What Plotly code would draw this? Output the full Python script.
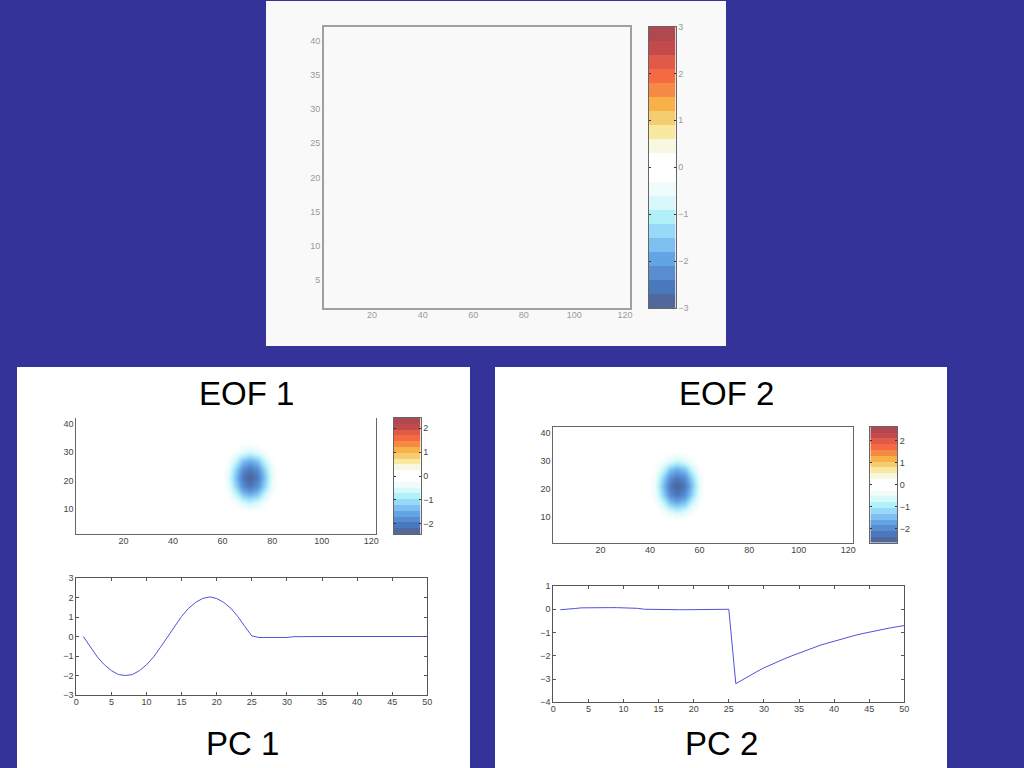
import plotly.graph_objects as go

W, H = 1024, 768

# colorbar bands, bottom to top
band_colors = ["#50689c", "#4a78bc", "#5a8cd0", "#62a4e4", "#7ebef0", "#98d8f8", "#b0f0f8",
               "#d8f8fc", "#f0fcfc", "#ffffff", "#ffffff", "#f8f8e0", "#f8e8a0", "#f5cc70",
               "#f8b048", "#f58a45", "#f56a40", "#e05a4a", "#c24a4c", "#b04850"]

# EOF patches, everything outside the grid is zero
eof1_x = [59, 62, 65, 68, 71, 74, 77, 80, 83]
eof1_y = [9, 12, 15, 18, 21, 24, 27, 30, 33]
eof1_z = [
    [0, 0, -0.03, -0.12, -0.15, -0.12, -0.03, 0, 0],
    [0, -0.04, -0.26, -0.5, -0.68, -0.5, -0.26, -0.04, 0],
    [-0.02, -0.18, -0.68, -1.25, -1.45, -1.25, -0.68, -0.18, -0.02],
    [-0.04, -0.34, -1.12, -1.78, -2.05, -1.78, -1.12, -0.34, -0.04],
    [-0.05, -0.42, -1.3, -2.0, -2.4, -2.0, -1.3, -0.42, -0.05],
    [-0.04, -0.34, -1.12, -1.78, -2.05, -1.78, -1.12, -0.34, -0.04],
    [-0.02, -0.18, -0.68, -1.25, -1.45, -1.25, -0.68, -0.18, -0.02],
    [0, -0.04, -0.26, -0.5, -0.68, -0.5, -0.26, -0.04, 0],
    [0, 0, -0.03, -0.12, -0.15, -0.12, -0.03, 0, 0],
]
eof2_x = [39, 42, 45, 48, 51, 54, 57, 60, 63]
eof2_y = [9, 12, 15, 18, 21, 24, 27, 30, 33]
eof2_z = [
    [0, 0, -0.03, -0.13, -0.16, -0.13, -0.03, 0, 0],
    [0, -0.04, -0.28, -0.55, -0.74, -0.55, -0.28, -0.04, 0],
    [-0.02, -0.2, -0.74, -1.36, -1.58, -1.36, -0.74, -0.2, -0.02],
    [-0.04, -0.37, -1.22, -1.94, -2.23, -1.94, -1.22, -0.37, -0.04],
    [-0.05, -0.46, -1.42, -2.18, -2.6, -2.18, -1.42, -0.46, -0.05],
    [-0.04, -0.37, -1.22, -1.94, -2.23, -1.94, -1.22, -0.37, -0.04],
    [-0.02, -0.2, -0.74, -1.36, -1.58, -1.36, -0.74, -0.2, -0.02],
    [0, -0.04, -0.28, -0.55, -0.74, -0.55, -0.28, -0.04, 0],
    [0, 0, -0.03, -0.13, -0.16, -0.13, -0.03, 0, 0],
]

pc_x = list(range(1, 51))
pc1 = [0, -0.55, -1.05, -1.45, -1.75, -1.95, -2.0, -1.95, -1.75, -1.45,
       -1.05, -0.55, 0, 0.52, 1.03, 1.45, 1.75, 1.95, 2.03, 1.95,
       1.75, 1.45, 1.03, 0.52, 0.03, -0.05, -0.05, -0.05, -0.05, -0.05,
       -0.01, 0, 0, 0, 0, 0, 0, 0, 0, 0,
       0, 0, 0, 0, 0, 0, 0, 0, 0, 0]
pc2 = [-0.02, 0.02, 0.03, 0.06, 0.07, 0.07, 0.07, 0.07, 0.07, 0.07,
       0.05, 0.04, 0, -0.01, -0.02, -0.02, -0.02, -0.02, -0.02, -0.02,
       -0.02, -0.02, -0.02, -0.01, 0, -3.2, -3.02, -2.85, -2.68, -2.52,
       -2.38, -2.24, -2.12, -2.0, -1.88, -1.77, -1.66, -1.55, -1.46, -1.37,
       -1.28, -1.2, -1.12, -1.05, -0.98, -0.92, -0.86, -0.8, -0.75, -0.7]

map_xticks = [20, 40, 60, 80, 100, 120]
top_yticks = [5, 10, 15, 20, 25, 30, 35, 40]
eof_yticks = [10, 20, 30, 40]
pc_xticks = [0, 5, 10, 15, 20, 25, 30, 35, 40, 45, 50]
pc1_yticks = [-3, -2, -1, 0, 1, 2, 3]
pc2_yticks = [-4, -3, -2, -1, 0, 1]
top_cb_ticks = [-3, -2, -1, 0, 1, 2, 3]
eof_cb_ticks = [-2, -1, 0, 1, 2]

BG = "#333399"
TOP_PANEL = "#f9f9f9"
FONT = "Liberation Sans"
PC_LINE = "#5050dc"

colorscale = [[0, band_colors[0]]]
for i, c in enumerate(band_colors):
    colorscale.append([(i + 0.5) / len(band_colors), c])
colorscale.append([1, band_colors[-1]])


def dom_x(x0, x1):
    return [x0 / W, x1 / W]


def dom_y(y0, y1):
    return [1 - y1 / H, 1 - y0 / H]


fig = go.Figure()
layout = {}


def add_axes(n, xbox, ybox, xrange, yrange, xticks, yticks, line, text, lw=1,
             ticks="", mirror_x=True, mirror_y=True):
    sfx = "" if n == 1 else str(n)
    layout["xaxis" + sfx] = dict(
        domain=dom_x(*xbox), range=xrange, tickvals=xticks, ticks=ticks, ticklen=3, tickwidth=1,
        tickcolor=line, showgrid=False, zeroline=False, showline=True, linecolor=line, linewidth=lw,
        mirror=("ticks" if ticks else True) if mirror_x else False, automargin=False, ticklabelstandoff=-2,
        tickfont=dict(family=FONT, size=9, color=text), anchor="y" + sfx)
    layout["yaxis" + sfx] = dict(
        domain=dom_y(*ybox), range=yrange, tickvals=yticks, ticks=ticks, ticklen=3, tickwidth=1,
        tickcolor=line, showgrid=False, zeroline=False, showline=True, linecolor=line, linewidth=lw,
        mirror=("ticks" if ticks else True) if mirror_y else False, automargin=False,
        tickfont=dict(family=FONT, size=9, color=text), anchor="x" + sfx)


def add_colorbar(n, xbox, ybox, lim, ticks, text):
    sfx = "" if n == 1 else str(n)
    step = 2 * lim / len(band_colors)
    edges = [-lim + i * step for i in range(len(band_colors) + 1)]
    fig.add_trace(go.Heatmap(x=[0, 1], y=edges, z=[[i] for i in range(len(band_colors))],
                             zmin=-0.5, zmax=len(band_colors) - 0.5, colorscale=colorscale,
                             showscale=False, xaxis="x" + sfx, yaxis="y" + sfx, hoverinfo="skip"))
    layout["xaxis" + sfx] = dict(domain=dom_x(*xbox), range=[0, 1], showticklabels=False, ticks="",
                                 showgrid=False, zeroline=False, showline=True, linecolor="#666666",
                                 linewidth=1, mirror=True, anchor="y" + sfx, automargin=False)
    layout["yaxis" + sfx] = dict(domain=dom_y(*ybox), range=[-lim, lim], tickvals=ticks, side="right",
                                 ticks="inside", ticklen=2, tickwidth=1, tickcolor="#333333",
                                 mirror="ticks", showgrid=False, zeroline=False, showline=True,
                                 linecolor="#666666", linewidth=1, anchor="x" + sfx, automargin=False,
                                 tickfont=dict(family=FONT, size=9, color=text))


# top panel: empty map and its colorbar
fig.add_trace(go.Scatter(x=[], y=[], xaxis="x", yaxis="y"))
add_axes(1, (324, 630), (27, 307.5), [1, 122], [1, 42], map_xticks, top_yticks, "#a0a0a0", "#999999", lw=2)
add_colorbar(2, (648.5, 675.5), (26.5, 308), 3, top_cb_ticks, "#999999")

# EOF 1 / PC 1
fig.add_trace(go.Heatmap(x=eof1_x, y=eof1_y, z=eof1_z, zmin=-2.42, zmax=2.42, colorscale=colorscale,
                         zsmooth="best", showscale=False, xaxis="x3", yaxis="y3"))
add_axes(3, (76.3, 376.3), (418, 534.3), [1, 122], [1, 42], map_xticks, eof_yticks, "#666666", "#444444",
         mirror_x=False)
add_colorbar(4, (393.5, 420.5), (418, 534), 2.42, eof_cb_ticks, "#444444")
fig.add_trace(go.Scatter(x=pc_x, y=pc1, mode="lines", line=dict(color=PC_LINE, width=1), xaxis="x5", yaxis="y5"))
add_axes(5, (76.3, 427.3), (578, 695), [0, 50], [-3, 3], pc_xticks, pc1_yticks, "#555555", "#444444", ticks="inside")

# EOF 2 / PC 2
fig.add_trace(go.Heatmap(x=eof2_x, y=eof2_y, z=eof2_z, zmin=-2.63, zmax=2.63, colorscale=colorscale,
                         zsmooth="best", showscale=False, xaxis="x6", yaxis="y6"))
add_axes(6, (553.3, 853.3), (426.7, 542.7), [1, 122], [1, 42], map_xticks, eof_yticks, "#666666", "#444444")
add_colorbar(7, (870.3, 897), (426.7, 542.7), 2.63, eof_cb_ticks, "#444444")
fig.add_trace(go.Scatter(x=pc_x, y=pc2, mode="lines", line=dict(color=PC_LINE, width=1), xaxis="x8", yaxis="y8"))
add_axes(8, (553.3, 904.3), (586, 702.3), [0, 50], [-4, 1], pc_xticks, pc2_yticks, "#555555", "#444444", ticks="inside")

panels = [(266, 1, 726, 346, TOP_PANEL), (17, 367, 470, 768, "#ffffff"), (495, 367, 947, 768, "#ffffff")]
shapes = [dict(type="rect", xref="paper", yref="paper", x0=p[0] / W, x1=p[2] / W, y0=1 - p[3] / H, y1=1 - p[1] / H,
               fillcolor=p[4], line_width=0, layer="below") for p in panels]

titles = [("EOF 1", 246.5, 393), ("EOF 2", 726.5, 393), ("PC 1", 242, 743), ("PC 2", 721.5, 743)]
annotations = [dict(text=t, x=x / W, y=1 - y / H, xref="paper", yref="paper", showarrow=False,
                    xanchor="center", yanchor="middle", font=dict(family=FONT, size=33, color="#000000"))
               for t, x, y in titles]

fig.update_layout(width=W, height=H, margin=dict(l=0, r=0, t=0, b=0), paper_bgcolor=BG, plot_bgcolor="rgba(0,0,0,0)",
                  showlegend=False, shapes=shapes, annotations=annotations, **layout)

fig.write_html("out.html", config={"displayModeBar": False},
               post_script="document.body.style.margin='0';document.body.style.overflow='hidden';")
